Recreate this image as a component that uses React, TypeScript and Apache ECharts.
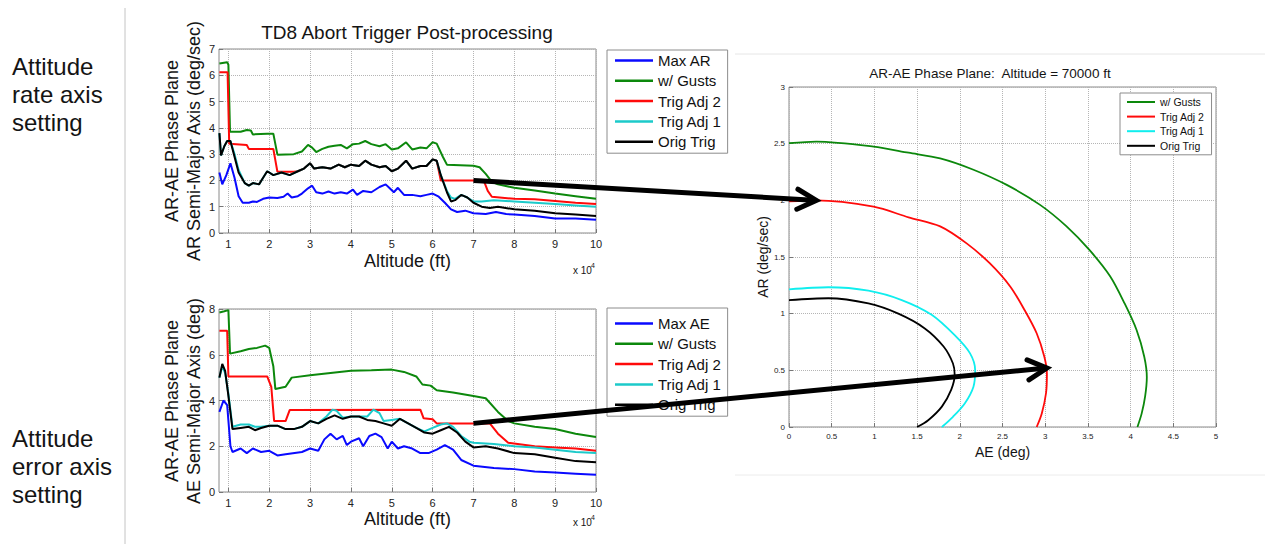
import React, { useEffect, useRef } from "react";
import * as echarts from "echarts";

const FONT = '"Liberation Sans", Arial, Helvetica, sans-serif';

// Altitude in units of 10^4 ft
const altTicks = [1, 2, 3, 4, 5, 6, 7, 8, 9, 10];

// ---------- Top chart: AR semi-major axis (deg/sec) ----------
const topMaxAR = [[0.78,2.3],[0.85,1.85],[0.95,2.2],[1.05,2.65],[1.15,2.1],[1.25,1.4],[1.35,1.15],[1.5,1.15],[1.6,1.2],[1.7,1.18],[1.85,1.3],[2.0,1.35],[2.2,1.33],[2.35,1.38],[2.45,1.5],[2.55,1.35],[2.7,1.4],[2.8,1.5],[2.95,1.7],[3.05,1.8],[3.15,1.55],[3.3,1.5],[3.45,1.58],[3.6,1.5],[3.75,1.55],[3.9,1.5],[4.05,1.65],[4.15,1.45],[4.3,1.6],[4.5,1.55],[4.7,1.75],[4.85,1.85],[4.95,1.7],[5.05,1.55],[5.15,1.72],[5.3,1.45],[5.5,1.45],[5.7,1.4],[5.85,1.45],[6.0,1.5],[6.15,1.38],[6.3,1.15],[6.45,0.9],[6.6,0.8],[6.8,0.85],[7.0,0.75],[7.3,0.72],[7.55,0.8],[7.8,0.72],[8.0,0.7],[8.5,0.65],[9.0,0.55],[9.5,0.55],[10,0.5]];
const topGusts = [[0.78,6.45],[0.97,6.5],[1.0,6.4],[1.04,3.85],[1.3,3.85],[1.45,3.92],[1.55,3.9],[1.6,3.75],[1.95,3.78],[2.1,3.78],[2.2,2.98],[2.6,3.0],[2.8,3.1],[2.95,3.35],[3.05,3.25],[3.15,3.08],[3.3,3.2],[3.45,3.28],[3.6,3.32],[3.75,3.35],[3.9,3.22],[4.05,3.38],[4.2,3.4],[4.35,3.5],[4.5,3.38],[4.7,3.3],[4.85,3.38],[5.0,3.18],[5.15,3.22],[5.35,3.45],[5.5,3.18],[5.7,3.25],[5.85,3.22],[6.0,3.45],[6.1,3.4],[6.25,2.9],[6.35,2.6],[7.0,2.56],[7.15,2.5],[7.3,2.25],[7.45,1.95],[7.6,1.85],[8.0,1.72],[8.5,1.62],[9.0,1.5],[9.5,1.4],[10,1.3]];
const topTrig2 = [[0.78,6.12],[0.98,6.12],[1.02,3.4],[1.45,3.35],[1.5,3.2],[2.1,3.2],[2.2,2.33],[2.6,2.33],[2.7,2.35],[2.85,2.45],[3.0,2.65],[3.1,2.45],[3.3,2.5],[3.5,2.45],[3.7,2.6],[3.85,2.5],[4.0,2.6],[4.2,2.55],[4.35,2.75],[4.5,2.6],[4.7,2.5],[4.85,2.55],[5.0,2.35],[5.15,2.45],[5.35,2.75],[5.5,2.45],[5.7,2.55],[5.85,2.55],[6.0,2.8],[6.1,2.75],[6.2,2.0],[7.25,2.0],[7.35,1.6],[7.45,1.38],[8.0,1.3],[8.5,1.28],[9.0,1.22],[9.5,1.15],[10,1.1]];
const topTrig1 = [[0.78,3.8],[0.82,2.95],[0.9,3.3],[0.97,3.5],[1.05,3.5],[1.15,3.0],[1.25,2.4],[1.4,1.9],[1.5,1.8],[1.6,1.9],[1.75,1.85],[1.85,2.1],[1.95,2.35],[2.1,2.2],[2.3,2.3],[2.5,2.2],[2.7,2.35],[2.85,2.45],[3.0,2.65],[3.1,2.45],[3.3,2.5],[3.5,2.45],[3.7,2.6],[3.85,2.5],[4.0,2.6],[4.2,2.55],[4.35,2.75],[4.5,2.6],[4.7,2.5],[4.85,2.55],[5.0,2.35],[5.15,2.45],[5.35,2.75],[5.5,2.45],[5.7,2.55],[5.85,2.55],[6.0,2.8],[6.1,2.75],[6.2,2.2],[6.35,1.6],[6.45,1.35],[6.55,1.3],[6.7,1.45],[6.85,1.35],[7.0,1.2],[7.2,1.2],[7.5,1.25],[8.0,1.2],[8.5,1.15],[9.0,1.1],[9.5,1.05],[10,1.0]];
const topOrig = [[0.78,3.8],[0.82,2.95],[0.9,3.3],[0.97,3.5],[1.05,3.5],[1.15,2.9],[1.25,2.3],[1.4,1.9],[1.5,1.8],[1.6,1.9],[1.75,1.85],[1.85,2.1],[1.95,2.35],[2.1,2.2],[2.3,2.3],[2.5,2.2],[2.7,2.35],[2.85,2.45],[3.0,2.65],[3.1,2.45],[3.3,2.5],[3.5,2.45],[3.7,2.6],[3.85,2.5],[4.0,2.6],[4.2,2.55],[4.35,2.75],[4.5,2.6],[4.7,2.5],[4.85,2.55],[5.0,2.35],[5.15,2.45],[5.35,2.75],[5.5,2.45],[5.7,2.55],[5.85,2.55],[6.0,2.8],[6.1,2.75],[6.2,2.2],[6.35,1.55],[6.45,1.2],[6.55,1.25],[6.7,1.45],[6.85,1.35],[7.0,1.15],[7.2,1.0],[7.4,0.95],[7.6,1.0],[8.0,0.9],[8.5,0.85],[9.0,0.75],[9.5,0.7],[10,0.65]];

// ---------- Bottom chart: AE semi-major axis (deg) ----------
const botMaxAE = [[0.78,3.5],[0.88,4.0],[0.97,3.8],[1.05,2.0],[1.1,1.75],[1.3,1.9],[1.45,1.7],[1.6,1.9],[1.8,1.75],[2.0,1.8],[2.2,1.6],[2.4,1.65],[2.8,1.75],[3.0,1.9],[3.2,1.8],[3.35,2.3],[3.5,2.55],[3.65,2.3],[3.8,2.45],[3.9,2.05],[4.0,2.2],[4.2,2.35],[4.3,2.0],[4.45,2.45],[4.6,2.55],[4.75,2.4],[4.9,1.9],[5.0,2.2],[5.15,1.9],[5.3,2.0],[5.5,1.9],[5.7,1.7],[5.9,1.7],[6.1,1.85],[6.3,2.05],[6.5,1.85],[6.7,1.4],[7.0,1.15],[7.5,1.05],[8.0,1.0],[8.5,0.9],[9.0,0.85],[9.5,0.8],[10,0.75]];
const botGusts = [[0.78,7.85],[0.9,7.9],[1.0,7.95],[1.04,6.05],[1.3,6.15],[1.5,6.25],[1.7,6.3],[1.9,6.4],[2.0,6.3],[2.1,5.5],[2.15,4.5],[2.4,4.6],[2.55,5.0],[3.0,5.1],[3.5,5.2],[4.0,5.3],[4.5,5.32],[5.0,5.35],[5.3,5.25],[5.6,5.05],[5.75,4.7],[5.95,4.65],[6.1,4.45],[6.5,4.35],[7.0,4.2],[7.3,4.1],[7.6,3.5],[7.85,3.1],[8.0,3.0],[8.5,2.85],[9.0,2.75],[9.5,2.55],[10,2.4]];
const botTrig2 = [[0.78,7.05],[0.97,7.05],[1.0,5.05],[1.95,5.05],[2.05,4.6],[2.12,3.1],[2.4,3.1],[2.5,3.58],[5.7,3.6],[5.78,3.22],[6.0,3.18],[6.1,3.0],[7.4,3.0],[7.6,2.55],[7.85,2.15],[8.5,2.0],[9.0,1.95],[9.5,1.9],[10,1.8]];
const botTrig1 = [[0.78,5.0],[0.85,5.5],[0.92,5.2],[1.0,4.3],[1.1,2.85],[1.3,2.95],[1.5,2.95],[1.65,2.85],[1.8,2.85],[2.0,2.9],[2.2,2.9],[2.4,2.75],[2.6,2.75],[2.8,2.85],[3.0,3.1],[3.2,3.0],[3.4,3.3],[3.55,3.6],[3.65,3.55],[3.8,3.25],[4.0,3.3],[4.2,3.3],[4.4,3.3],[4.55,3.6],[4.7,3.45],[4.8,3.1],[5.0,3.15],[5.2,3.2],[5.4,3.0],[5.6,2.8],[5.8,2.65],[6.0,2.8],[6.2,2.95],[6.35,3.0],[6.5,2.85],[6.7,2.45],[6.9,2.2],[7.0,2.15],[7.5,2.1],[8.0,2.0],[8.5,1.95],[9.0,1.85],[9.5,1.75],[10,1.7]];
const botOrig = [[0.78,5.0],[0.85,5.6],[0.92,5.3],[1.0,4.2],[1.1,2.75],[1.3,2.8],[1.5,2.85],[1.65,2.7],[1.8,2.8],[2.0,2.9],[2.2,2.9],[2.4,2.75],[2.6,2.75],[2.8,2.85],[3.0,3.1],[3.2,3.0],[3.4,3.2],[3.6,3.35],[3.8,3.2],[4.0,3.3],[4.2,3.3],[4.4,3.15],[4.6,3.1],[4.8,3.0],[5.0,2.9],[5.2,3.2],[5.4,3.0],[5.6,2.8],[5.8,2.6],[6.0,2.55],[6.2,2.7],[6.4,2.85],[6.6,2.6],[6.8,2.2],[7.0,1.95],[7.3,2.0],[7.6,1.9],[8.0,1.7],[8.5,1.65],[9.0,1.5],[9.5,1.35],[10,1.3]];

// ---------- Right chart: AR-AE phase plane at 70000 ft (AE deg, AR deg/sec) ----------
const ppGusts = [[0,2.504],[0.32,2.518],[0.99,2.474],[1.4,2.42],[1.77,2.37],[2.16,2.27],[2.55,2.136],[2.94,1.96],[3.25,1.77],[3.52,1.56],[3.76,1.33],[3.93,1.09],[4.07,0.856],[4.16,0.62],[4.19,0.44],[4.17,0.27],[4.13,0.12],[4.08,0]];
const ppTrig2 = [[0,1.99],[0.32,2.0],[0.99,1.944],[1.4,1.85],[1.77,1.77],[2.08,1.62],[2.35,1.445],[2.59,1.24],[2.76,1.03],[2.9,0.827],[2.99,0.62],[3.02,0.47],[3.01,0.3],[2.96,0.12],[2.9,0]];
const ppTrig1 = [[0,1.215],[0.46,1.233],[0.93,1.203],[1.32,1.12],[1.67,0.99],[1.94,0.81],[2.12,0.65],[2.18,0.5],[2.16,0.356],[2.06,0.21],[1.92,0.09],[1.79,0]];
const ppOrig = [[0,1.12],[0.46,1.136],[0.93,1.09],[1.28,1.0],[1.59,0.87],[1.81,0.71],[1.92,0.56],[1.94,0.46],[1.9,0.33],[1.79,0.18],[1.63,0.06],[1.5,0]];

const topNames = ["Max AR", "w/ Gusts", "Trig Adj 2", "Trig Adj 1", "Orig Trig"];
const botNames = ["Max AE", "w/ Gusts", "Trig Adj 2", "Trig Adj 1", "Orig Trig"];
const ppNames = ["w/ Gusts", "Trig Adj 2", "Trig Adj 1", "Orig Trig"];

const C_BLUE = "#0a0aff";
const C_GREEN = "#0c880c";
const C_RED = "#ff0a0a";
const C_CYAN = "#1ccaca";
const C_CYAN_R = "#10eeee";
const C_BLACK = "#000000";

function line(name: string, data: number[][], color: string, idx: number, width = 2, smooth: boolean | number = false) {
  return {
    type: "line",
    name,
    data,
    xAxisIndex: idx,
    yAxisIndex: idx,
    showSymbol: false,
    symbol: "none",
    smooth,
    clip: true,
    lineStyle: { color, width },
    itemStyle: { color },
    emphasis: { disabled: true },
  };
}

const gridBox = { show: true, borderColor: "#8a8a8a", borderWidth: 1, backgroundColor: "#ffffff" };
const split = { show: true, lineStyle: { type: "dotted", color: "#b5b5b5", width: 1 } };
const tick = { show: true, inside: true, length: 4, lineStyle: { color: "#777" } };

function legend(id: string, left: number, top: number, data: any[], o: any) {
  return {
    id,
    left,
    top,
    orient: "vertical",
    data,
    icon: "rect",
    selectedMode: false,
    borderColor: "#8c8c8c",
    borderWidth: 1,
    backgroundColor: "#ffffff",
    borderRadius: 0,
    ...o,
  };
}

function txt(id: string, text: string, x: number, y: number, size: number, extra: any = {}) {
  return {
    type: "text",
    id,
    x,
    y,
    z: 50,
    rotation: extra.rotation || 0,
    style: {
      text,
      fontSize: size,
      fontFamily: FONT,
      fill: extra.fill || "#141414",
      align: extra.align || "center",
      verticalAlign: "middle",
    },
  };
}

function arrow(id: string, from: number[], to: number[]) {
  const dx = to[0] - from[0];
  const dy = to[1] - from[1];
  const len = Math.hypot(dx, dy);
  const ux = dx / len;
  const uy = dy / len;
  const hl = 19;
  const hw = 10;
  const p1 = [to[0] - ux * hl - uy * hw, to[1] - uy * hl + ux * hw];
  const p2 = [to[0] - ux * hl + uy * hw, to[1] - uy * hl - ux * hw];
  return [
    {
      type: "line",
      id: id + "s",
      z: 100,
      shape: { x1: from[0], y1: from[1], x2: to[0] - ux * 3, y2: to[1] - uy * 3 },
      style: { stroke: "#000", lineWidth: 5, lineCap: "butt" },
    },
    {
      type: "polyline",
      id: id + "h",
      z: 100,
      shape: { points: [p1, to, p2] },
      style: { stroke: "#000", lineWidth: 5, fill: null, lineJoin: "miter", lineCap: "round" },
    },
  ];
}

const staticGraphics = [
  { type: "line", id: "sep", z: 1, shape: { x1: 125, y1: 8, x2: 125, y2: 544 }, style: { stroke: "#c4c4c4", lineWidth: 1 } },
  { type: "line", id: "frameTop", z: 1, shape: { x1: 735, y1: 54, x2: 1265, y2: 54 }, style: { stroke: "#e6e6e6", lineWidth: 1 } },
  { type: "line", id: "frameBot", z: 1, shape: { x1: 735, y1: 475, x2: 1265, y2: 475 }, style: { stroke: "#ececec", lineWidth: 1 } },
  txt("l1", "Attitude", 12, 66, 24, { align: "left" }),
  txt("l2", "rate axis", 12, 94, 24, { align: "left" }),
  txt("l3", "setting", 12, 122, 24, { align: "left" }),
  txt("l4", "Attitude", 12, 438, 24, { align: "left" }),
  txt("l5", "error axis", 12, 466, 24, { align: "left" }),
  txt("l6", "setting", 12, 494, 24, { align: "left" }),
  txt("t1", "TD8 Abort Trigger Post-processing", 407, 32, 19),
  txt("t2", "AR-AE Phase Plane:  Altitude = 70000 ft", 990, 73, 13.5),
  txt("ya1", "AR-AE Phase Plane", 172, 141, 18, { rotation: Math.PI / 2 }),
  txt("ya2", "AR Semi-Major Axis (deg/sec)", 194, 141, 18, { rotation: Math.PI / 2 }),
  txt("yb1", "AR-AE Phase Plane", 172, 401, 18, { rotation: Math.PI / 2 }),
  txt("yb2", "AE Semi-Major Axis (deg)", 194, 401, 18, { rotation: Math.PI / 2 }),
  txt("yc1", "AR (deg/sec)", 763, 257, 14, { rotation: Math.PI / 2 }),
  txt("ex1", "x 10", 573, 270, 10, { align: "left" }),
  txt("ex1b", "4", 591, 265, 7, { align: "left" }),
  txt("ex2", "x 10", 573, 522, 10, { align: "left" }),
  txt("ex2b", "4", 591, 517, 7, { align: "left" }),
];

function altAxis(idx: number, gap: number) {
  return {
    type: "value",
    gridIndex: idx,
    min: 0.77,
    max: 10,
    name: "Altitude (ft)",
    nameLocation: "middle",
    nameGap: gap,
    nameTextStyle: { fontSize: 18, color: "#141414", fontFamily: FONT },
    axisLine: { show: false },
    axisTick: { ...tick, customValues: altTicks },
    axisLabel: { customValues: altTicks, fontSize: 11, color: "#222", margin: 5, fontFamily: FONT },
    splitLine: split,
  };
}

const option = {
  animation: false,
  backgroundColor: "#ffffff",
  textStyle: { fontFamily: FONT },
  grid: [
    { left: 219, top: 49, width: 377, height: 184, ...gridBox },
    { left: 219, top: 309, width: 377, height: 183, ...gridBox },
    { left: 789, top: 87, width: 427, height: 340, ...gridBox },
  ],
  xAxis: [
    altAxis(0, 19),
    altAxis(1, 18),
    {
      type: "value",
      gridIndex: 2,
      min: 0,
      max: 5,
      interval: 0.5,
      name: "AE (deg)",
      nameLocation: "middle",
      nameGap: 17,
      nameTextStyle: { fontSize: 14, color: "#141414", fontFamily: FONT },
      axisLine: { show: false },
      axisTick: tick,
      axisLabel: { fontSize: 8, color: "#222", margin: 5 },
      splitLine: split,
    },
  ],
  yAxis: [
    {
      type: "value",
      gridIndex: 0,
      min: 0,
      max: 7,
      interval: 1,
      axisLine: { show: false },
      axisTick: tick,
      axisLabel: { fontSize: 11, color: "#222", margin: 4 },
      splitLine: split,
    },
    {
      type: "value",
      gridIndex: 1,
      min: 0,
      max: 8,
      interval: 2,
      axisLine: { show: false },
      axisTick: tick,
      axisLabel: { fontSize: 11, color: "#222", margin: 4 },
      splitLine: split,
    },
    {
      type: "value",
      gridIndex: 2,
      min: 0,
      max: 3,
      interval: 0.5,
      axisLine: { show: false },
      axisTick: tick,
      axisLabel: { fontSize: 8, color: "#222", margin: 4 },
      splitLine: split,
    },
  ],
  legend: [
    legend("lgTop", 607, 50, topNames, {
      itemWidth: 38,
      itemHeight: 2.5,
      itemGap: 5.3,
      padding: [3, 6, 4, 8],
      textStyle: { fontSize: 15, lineHeight: 15, color: "#111", fontFamily: FONT },
    }),
    legend("lgBot", 607, 308, botNames, {
      itemWidth: 38,
      itemHeight: 2.5,
      itemGap: 5.3,
      padding: [8, 6, 4, 8],
      textStyle: { fontSize: 15, lineHeight: 15, color: "#111", fontFamily: FONT },
    }),
    legend(
      "lgPP",
      1120,
      93,
      ppNames.map((n) => (n === "Trig Adj 1" ? { name: n, itemStyle: { color: C_CYAN_R } } : n)),
      {
        itemWidth: 28,
        itemHeight: 2,
        itemGap: 3.6,
        padding: [3.5, 7, 3.5, 7],
        textStyle: { fontSize: 10.5, lineHeight: 11, color: "#111", fontFamily: FONT },
      }
    ),
  ],
  series: [
    line(topNames[0], topMaxAR, C_BLUE, 0),
    line(topNames[1], topGusts, C_GREEN, 0),
    line(topNames[2], topTrig2, C_RED, 0),
    line(topNames[3], topTrig1, C_CYAN, 0),
    line(topNames[4], topOrig, C_BLACK, 0),
    line(botNames[0], botMaxAE, C_BLUE, 1),
    line(botNames[1], botGusts, C_GREEN, 1),
    line(botNames[2], botTrig2, C_RED, 1),
    line(botNames[3], botTrig1, C_CYAN, 1),
    line(botNames[4], botOrig, C_BLACK, 1),
    line(ppNames[0], ppGusts, C_GREEN, 2, 1.8, 0.3),
    line(ppNames[1], ppTrig2, C_RED, 2, 1.8, 0.3),
    line(ppNames[2], ppTrig1, C_CYAN_R, 2, 1.8, 0.3),
    line(ppNames[3], ppOrig, C_BLACK, 2, 1.8, 0.3),
  ],
  graphic: { elements: staticGraphics },
};

// Arrow anchors (data coordinates)
const arrowTopFrom = [7, 2.0];
const arrowTopTo = [0.32, 2.0];
const arrowBotFrom = [7, 3.0];
const arrowBotTo = [3.02, 0.52];

export default function App() {
  const ref = useRef<HTMLDivElement>(null);
  useEffect(() => {
    const el = ref.current;
    if (!el) return;
    const chart = echarts.init(el, null, { renderer: "svg" });
    chart.setOption(option as any);
    const a = chart.convertToPixel({ gridIndex: 0 } as any, arrowTopFrom) as number[];
    const b = chart.convertToPixel({ gridIndex: 2 } as any, arrowTopTo) as number[];
    const c = chart.convertToPixel({ gridIndex: 1 } as any, arrowBotFrom) as number[];
    const d = chart.convertToPixel({ gridIndex: 2 } as any, arrowBotTo) as number[];
    chart.setOption({
      graphic: { elements: [...staticGraphics, ...arrow("arTop", a, b), ...arrow("arBot", c, d)] },
    } as any);
    return () => chart.dispose();
  }, []);
  return (
    <div
      ref={ref}
      style={{ position: "absolute", left: 0, top: 0, width: 1265, height: 544, background: "#fff" }}
    />
  );
}
